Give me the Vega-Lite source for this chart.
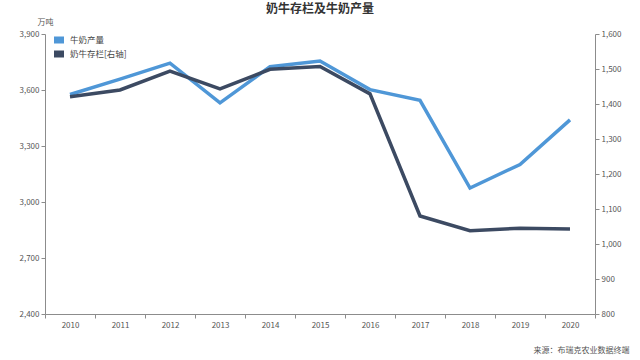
{
  "$schema": "https://vega.github.io/schema/vega-lite/v6.json",
  "width": 550,
  "height": 280,
  "autosize": {"type": "none"},
  "padding": {"left": 45, "top": 34, "right": 45, "bottom": 46},
  "background": "white",
  "config": {
    "font": "Noto Sans CJK SC",
    "view": {"stroke": null},
    "axis": {
      "grid": false,
      "domainColor": "#8c8c8c",
      "tickColor": "#8c8c8c",
      "labelColor": "#555555",
      "labelFontSize": 8,
      "tickSize": 4,
      "labelFont": "Noto Sans CJK SC"
    }
  },
  "title": {
    "text": "奶牛存栏及牛奶产量",
    "anchor": "middle",
    "fontSize": 12,
    "fontWeight": "bold",
    "color": "#333333",
    "offset": 2,
    "font": "Noto Sans CJK SC"
  },
  "data": {
    "values": [
      {"year": "2010", "milk": 3576, "cattle": 1421},
      {"year": "2011", "milk": 3658, "cattle": 1440},
      {"year": "2012", "milk": 3744, "cattle": 1494},
      {"year": "2013", "milk": 3531, "cattle": 1443},
      {"year": "2014", "milk": 3725, "cattle": 1499},
      {"year": "2015", "milk": 3755, "cattle": 1507},
      {"year": "2016", "milk": 3602, "cattle": 1429},
      {"year": "2017", "milk": 3545, "cattle": 1080},
      {"year": "2018", "milk": 3075, "cattle": 1038},
      {"year": "2019", "milk": 3201, "cattle": 1045},
      {"year": "2020", "milk": 3440, "cattle": 1043}
    ]
  },
  "encoding": {
    "x": {
      "field": "year",
      "type": "ordinal",
      "scale": {"type": "band", "paddingInner": 0, "paddingOuter": 0},
      "axis": {
        "labelAngle": 0,
        "tickBand": "extent",
        "labelPadding": 3,
        "title": "来源：布瑞克农业数据终端",
        "titleFontSize": 8,
        "titleFontWeight": "normal",
        "titleColor": "#555555",
        "titleAnchor": null,
        "titleAlign": "right",
        "titleBaseline": "middle",
        "titleX": 584,
        "titleY": 36
      }
    }
  },
  "layer": [
    {
      "mark": {"type": "line", "strokeWidth": 3.5, "strokeJoin": "miter"},
      "encoding": {
        "y": {
          "field": "milk",
          "type": "quantitative",
          "scale": {"domain": [2400, 3900], "zero": false, "nice": false},
          "axis": {
            "values": [2400, 2700, 3000, 3300, 3600, 3900],
            "format": ",.0f",
            "title": "万吨",
            "titleAngle": 0,
            "titleFontSize": 8,
            "titleFontWeight": "normal",
            "titleColor": "#555555",
            "titleAlign": "center",
            "titleBaseline": "middle",
            "titleX": 0,
            "titleY": -12
          }
        },
        "color": {
          "datum": "牛奶产量",
          "type": "nominal",
          "scale": {"domain": ["牛奶产量", "奶牛存栏[右轴]"], "range": ["#4f97d7", "#3c4a62"]},
          "legend": {
            "title": null,
            "orient": "none",
            "legendX": 9,
            "legendY": 1,
            "padding": 0,
            "symbolType": "M-1,-0.7H1V0.7H-1Z",
            "symbolSize": 100,
            "labelFontSize": 8.5,
            "labelColor": "#444444",
            "rowPadding": 4,
            "labelOffset": 6,
            "encode": {
              "symbols": {"update": {"fill": {"scale": "color", "field": "value"}, "strokeWidth": {"value": 0}}}
            }
          }
        }
      }
    },
    {
      "mark": {"type": "line", "strokeWidth": 3.5, "strokeJoin": "miter"},
      "encoding": {
        "y": {
          "field": "cattle",
          "type": "quantitative",
          "scale": {"domain": [800, 1600], "zero": false, "nice": false},
          "axis": {
            "orient": "right",
            "values": [800, 900, 1000, 1100, 1200, 1300, 1400, 1500, 1600],
            "format": ",.0f",
            "title": null
          }
        },
        "color": {"datum": "奶牛存栏[右轴]", "type": "nominal"}
      }
    }
  ],
  "resolve": {"scale": {"y": "independent"}}
}
